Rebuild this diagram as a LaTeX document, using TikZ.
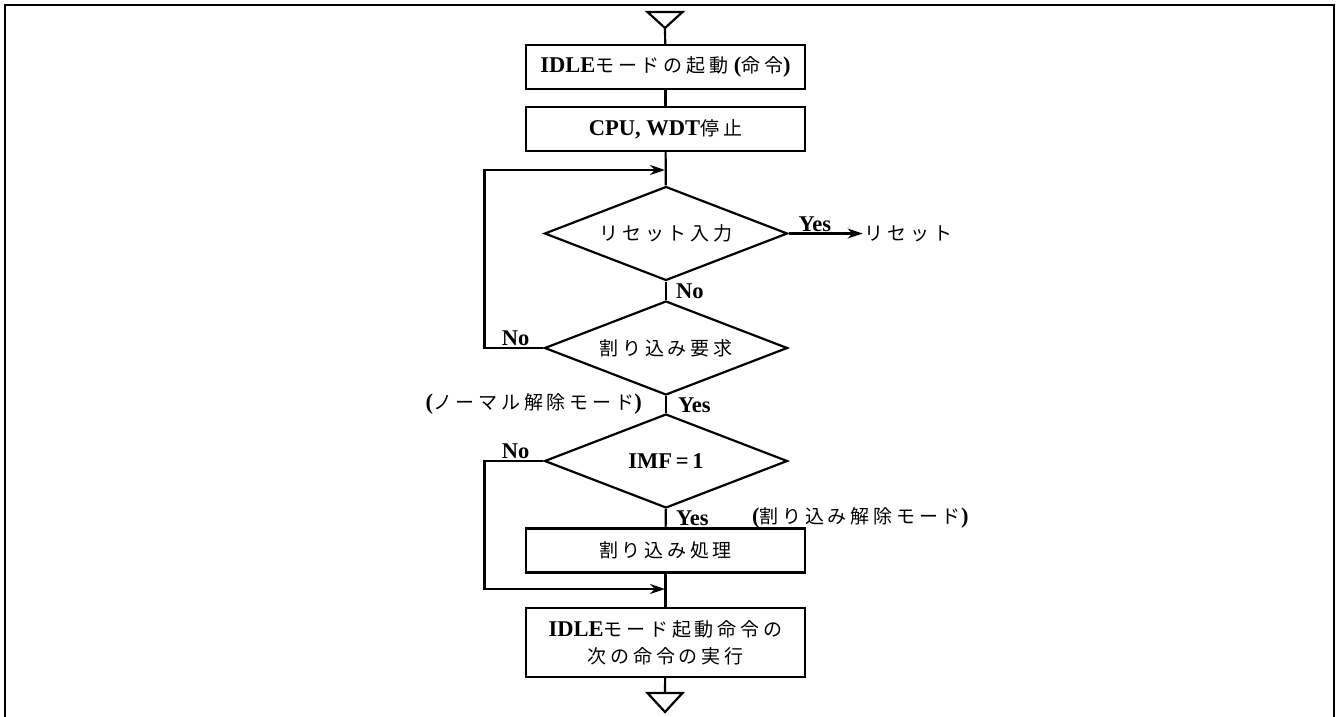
\documentclass[tikz,border=0pt]{standalone}
\usepackage{fontspec}
\setmainfont{Liberation Serif}
\newfontfamily\jpfont{Noto Sans CJK JP}[LetterSpace=20]
\usepackage{tikz}
\usetikzlibrary{shapes.geometric,arrows.meta,positioning}

\newcommand{\jtext}[1]{{\jpfont\mdseries\fontsize{19}{26}\selectfont #1}}

\begin{document}
\begin{tikzpicture}[x=1pt, y=-1pt, line width=2.2pt,
        font=\fontsize{22.5}{27}\selectfont\bfseries,
        box/.style={draw, rectangle, minimum width=279pt, minimum height=44pt, inner sep=2pt},
        decision/.style={draw, diamond, aspect=2.6, minimum width=243pt, minimum height=94pt, inner sep=0pt},
        lbl/.style={inner sep=1pt},
        flow/.style={-{Stealth[length=15pt, width=10pt]}}]
        \useasboundingbox (0,0) rectangle (1339,717);
        \draw[line width=2.8pt] (5,717) -- (5,5) -- (1334,5) -- (1334,717);

        % steps and decisions
        \coordinate (in) at (665,28);
        \node[box] (idle) at (665.5,67) {IDLE\jtext{モードの起動} (\jtext{命令})};
        \node[box] (halt) at (665.5,129) {CPU, WDT\jtext{停止}};
        \coordinate (join1) at (665,170);
        \node[decision] (reset) at (666,233.5) {\jtext{リセット入力}};
        \node[decision] (irq) at (666,348) {\jtext{割り込み要求}};
        \node[decision] (imf) at (666,461) {IMF\,=\,1};
        \node[box] (isr) at (665.5,550.5) {\jtext{割り込み処理}};
        \coordinate (join2) at (665,589);
        \node[box, minimum height=69pt, align=center] (next) at (665.5,642.5)
            {IDLE\jtext{モード起動命令の}\\\jtext{次の命令の実行}};
        \coordinate (out) at (665,693);
        \node[lbl, right=74pt of reset.east] (rst) {\jtext{リセット}};

        % labels
        \node[lbl, above right=0pt and 8pt of reset.east] {Yes};
        \node[lbl, below right=0pt and 8pt of reset.south] {No};
        \node[lbl, above left=0pt and 12pt of irq.west] {No};
        \node[lbl, left=22pt of irq.south, yshift=-8pt] {(\jtext{ノーマル解除モード})};
        \node[lbl, below right=0pt and 10pt of irq.south] {Yes};
        \node[lbl, above left=0pt and 12pt of imf.west] {No};
        \node[lbl, below right=0pt and 8pt of imf.south] {Yes};
        \node[lbl, right=84pt of imf.south, yshift=-9pt] {(\jtext{割り込み解除モード})};

        % connectors
        \draw (in) -- ++(-17.5,-16) -- ++(35,0) -- cycle;
        \draw (in) -- (idle);
        \draw (idle) -- (halt);
        \draw (halt) -- (reset);
        \draw[flow] (reset.east) -- (rst.west);
        \draw (reset) -- (irq);
        \draw[flow] (irq.west) -- ++(-59,0) |- (join1);
        \draw (irq) -- (imf);
        \draw[flow] (imf.west) -- ++(-59,0) |- (join2);
        \draw (imf) -- (isr);
        \draw (isr) -- (next);
        \draw (next) -- (out);
        \draw (out) -- ++(-17.5,0) -- ++(17.5,19) -- ++(17.5,-19) -- cycle;
\end{tikzpicture}
\end{document}
